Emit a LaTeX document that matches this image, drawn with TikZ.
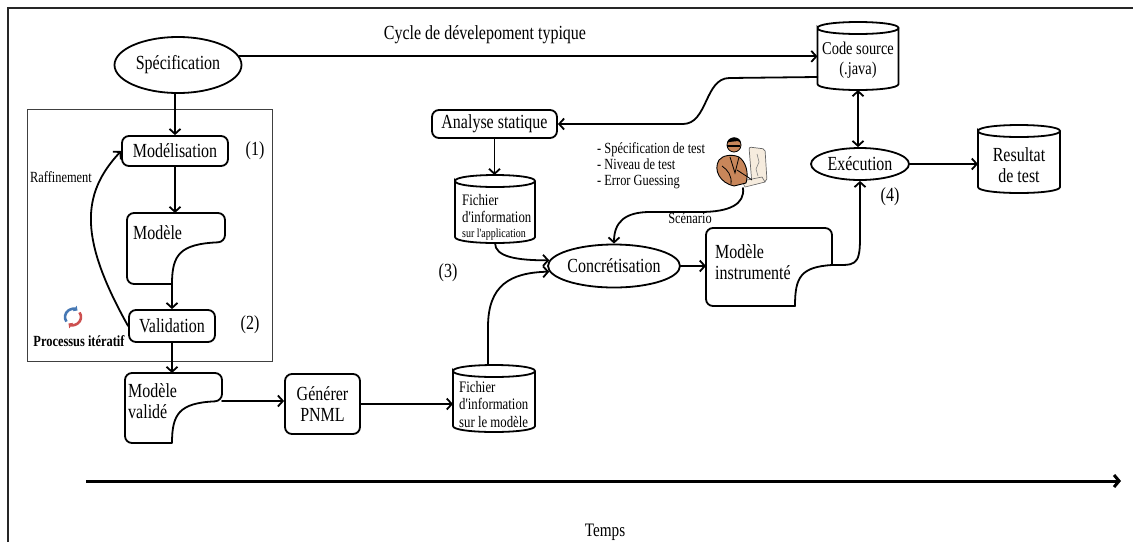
\documentclass[tikz,border=0pt]{standalone}
\usepackage{fontspec}
\setmainfont[FakeStretch=0.8, Ligatures=TeXOff]{Liberation Serif}
\usetikzlibrary{arrows.meta,calc,shapes.geometric}

\definecolor{skin}{RGB}{200,134,90}
\definecolor{screen}{RGB}{246,236,222}
\definecolor{loopblue}{RGB}{70,120,180}
\definecolor{loopred}{RGB}{205,80,80}

\tikzset{
  ln/.style={line width=1.8pt, line cap=round},
  arr/.style={ln, -{Straight Barb[length=5pt,width=11pt]}},
  biarr/.style={ln, {Straight Barb[length=5pt,width=11pt]}-{Straight Barb[length=5pt,width=11pt]}},
  big/.style={font=\fontsize{20}{21}\selectfont},
  mid/.style={font=\fontsize{16}{17.5}\selectfont},
  note/.style={font=\fontsize{15.5}{16}\selectfont},
  oval/.style={ellipse, draw, ln, inner sep=0pt, big},
  rbox/.style={draw, ln, rounded corners=7pt, inner sep=0pt, big, align=center},
  holder/.style={inner sep=0pt, outer sep=0pt},
  word/.style={inner sep=0pt, align=left},
}

% cylinder outline around a holder node; #2 = half height of the lid
\newcommand\cylinderat[2]{%
  \draw[ln] ($(#1.north west)+(0,#2)$)
      .. controls +(0,-1.333*#2) and +(0,-1.333*#2) .. ($(#1.north east)+(0,#2)$)
      .. controls +(0,1.333*#2) and +(0,1.333*#2) .. ($(#1.north west)+(0,#2)$)
      -- ($(#1.south west)+(0,-#2)$)
      .. controls +(0,1.333*#2) and +(0,1.333*#2) .. ($(#1.south east)+(0,-#2)$)
      -- ($(#1.north east)+(0,#2)$);}

% document outline with a curved notch at the lower right
% #2 = depth of the notch below the top, #3 = inset of the notch at the bottom
\newcommand\docround[3]{%
  \coordinate (#1-r) at ($(#1.north east)+(0,#2)$);
  \coordinate (#1-b) at ($(#1.south east)+(-#3,0)$);
  \coordinate (#1-k) at (#1-b |- #1-r);
  \draw[ln, rounded corners=7pt] (#1-b) -- (#1.south west) -- (#1.north west)
      -- (#1.north east) -- (#1-r)
      .. controls +(-0.85*#3,2) and ($(#1-b)!0.7!(#1-k)$) .. (#1-b);}
\newcommand\docsquare[3]{%
  \coordinate (#1-r) at ($(#1.north east)+(0,#2)$);
  \coordinate (#1-b) at ($(#1.south east)+(-#3,0)$);
  \coordinate (#1-k) at (#1-b |- #1-r);
  \draw[ln, rounded corners=7pt] (#1-r) -- (#1.north east) -- (#1.north west)
      -- (#1.south west) -- (#1-b);
  \draw[ln] (#1-r) .. controls +(-0.85*#3,2) and ($(#1-b)!0.7!(#1-k)$) .. (#1-b);}

\begin{document}
\begin{tikzpicture}[x=1pt,y=-1pt]
\useasboundingbox (0,0) rectangle (1133,542);

% page frame (left and top edges)
\draw[line width=1.6pt, black!85] (8,542) -- (8,8) -- (1133,8);

% iterative part
\draw[line width=1pt, black!75] (27,109) rectangle (272,361);

\node[big] (title) at (485,35) {Cycle de dévelepoment typique};

% ---- nodes
\node[oval, minimum width=127, minimum height=56] (spec) at (178,65) {Spécification};
\node[rbox, minimum width=106, minimum height=30] (modelisation) at (175,151) {Modélisation};
\node[holder, minimum width=98, minimum height=71] (modele) at (176,248.5) {};
\node[rbox, minimum width=86, minimum height=32] (validation) at (172,326) {Validation};
\node[holder, minimum width=97, minimum height=70] (modeleval) at (173.5,408) {};
\node[rbox, minimum width=75, minimum height=60] (pnml) at (322.5,404) {Générer\\PNML};
\node[holder, minimum width=82, minimum height=67] (fichmod) at (494,398.5) {};
\node[rbox, minimum width=125, minimum height=28] (analyse) at (494.5,124) {Analyse statique};
\node[holder, minimum width=80, minimum height=68] (fichapp) at (495,209) {};
\node[oval, minimum width=122, minimum height=43] (concr) at (614,266) {Concrétisation};
\node[holder, minimum width=126, minimum height=78] (modinst) at (769,267) {};
\node[holder, minimum width=81, minimum height=68] (code) at (858,56) {};
\node[oval, minimum width=98, minimum height=32] (exec) at (860,164) {Exécution};
\node[holder, minimum width=82, minimum height=68] (result) at (1019,159) {};
\node[holder, minimum width=56, minimum height=56] (person) at (740,160) {};
\node[holder, minimum width=20, minimum height=20] (loop) at (73,317) {};

% ---- outlines of documents and stores
\docround{modele}{29}{53}
\docround{modeleval}{28}{50}
\docsquare{modinst}{37}{37}
\cylinderat{code}{6}
\cylinderat{result}{6}
\cylinderat{fichapp}{6}
\cylinderat{fichmod}{6}

% ---- texts inside documents and stores
\node[word, big, anchor=west] (modeleT) at ($(modele.north west)+(6,20)$) {Modèle};
\node[word, big, anchor=west] (modelevalT) at ($(modeleval.north west)+(3,28)$) {Modèle\\validé};
\node[word, big, anchor=west] (modinstT) at ($(modinst.north west)+(9,34)$) {Modèle\\instrumenté};
\node[word, font=\fontsize{18}{20}\selectfont, align=center] (codeT) at ($(code.center)+(0,4)$) {Code source\\(.java)};
\node[word, big, align=center] (resultT) at ($(result.center)+(0,6)$) {Resultat\\de test};
\node[word, mid, anchor=west] (fichappT) at ($(fichapp.west)+(7,8)$)
  {Fichier\\d'information\\[-3pt]{\fontsize{12.5}{14}\selectfont sur l'application}};
\node[word, mid, anchor=west] (fichmodT) at ($(fichmod.west)+(6,6)$)
  {Fichier\\d'information\\sur le modèle};

% ---- labels
\node[big] (n1) at (255,151) {(1)};
\node[big] (n2) at (250,325) {(2)};
\node[big] (n3) at (448,273) {(3)};
\node[big] (n4) at (890,197) {(4)};
\node[note] (raff) at (61,177) {Raffinement};
\node[note, font=\fontsize{15.5}{16}\selectfont\bfseries] (iterT) at (79,341) {Processus itératif};
\node[note] (scen) at (690,218) {Scénario};
\node[word, note, anchor=west] (tests) at (597,166)
  {- Spécification de test\\- Niveau de test\\- Error Guessing};
\node[font=\fontsize{19}{20}\selectfont] (temps) at (605,532) {Temps};

% ---- connectors
\draw[arr] (spec.8) -- (spec.8 -| code.west);
\draw[arr] (modelisation.north |- spec.south) -- (modelisation.north);
\draw[arr] (modelisation.south) -- (modelisation.south |- modele.north);
\draw[arr] (validation.north |- modele-b) -- (validation.north);
\draw[arr] (validation.west) .. controls (80,240) and (80,195) .. (modelisation.west);
\draw[arr] (validation.south) -- (validation.south |- modeleval.north);
\draw[arr] (modeleval-r) -- (modeleval-r -| pnml.west);
\draw[arr] (pnml.east) -- (pnml.east -| fichmod.west);
\draw[arr] ($(fichmod.north)+(-6,0)$) -- ($(fichmod.north)+(-6,-38)$)
   .. controls +(0,-42) and +(-39,1) .. (concr.185);
\draw[arr] (fichapp.south) .. controls +(0,14) and +(-32,0) .. (concr.175);
\draw[arr] (analyse.south) -- (analyse.south |- fichapp.north);
\draw[arr] ($(code.south west)+(0,-13)$) -- ++(-88,1)
   .. controls +(-25,0) and +(25,0) .. ($(analyse.east)+(125,0)$) -- (analyse.east);
\draw[arr] ($(person.south)+(3,0)$) .. controls +(2,16) and +(30,0) .. (700,212)
   -- (650,212) .. controls (625,212) and (614,222) .. (concr.north);
\draw[arr] (concr.east) -- (concr.east -| modinst.west);
\draw[arr] (modinst-r) .. controls +(22,0) and +(0,28) .. ($(exec.south)+(0,58)$) -- (exec.south);
\draw[biarr] (code.south) -- (code.south |- exec.north);
\draw[arr] (exec.east) -- (exec.east -| result.west);

% time axis
\coordinate (t0) at (86,481);
\coordinate (t1) at (1121,481);
\draw[line width=3pt, -{Straight Barb[length=5pt,width=12pt]}] (t0) -- (t1);

% ---- iteration icon: two chasing arrows
\draw[loopblue, line width=2.6pt, -{Triangle[length=3.5pt,width=6.5pt]}]
  (loop.center) ++(145:8) arc[start angle=145, end angle=305, radius=8];
\draw[loopred, line width=2.6pt, -{Triangle[length=3.5pt,width=6.5pt]}]
  (loop.center) ++(-35:8) arc[start angle=-35, end angle=125, radius=8];

% ---- tester at his computer
\begin{scope}[shift={(person.center)}]
  \draw[black!60, fill=screen, line width=0.7pt, rounded corners=2pt]
     (9,-13) -- (25,-11) -- (27,21) -- (12,25) -- cycle;
  \draw[black!50, line width=0.6pt] (17,-6) -- (19,2) -- (16,9) -- (18,16);
  \draw[black!60, fill=screen, line width=0.6pt] (2,21) -- (22,17) -- (25,22) -- (5,27) -- cycle;
  \draw[black, fill=skin, line width=0.9pt]
     (-21,0) .. controls (-27,10) and (-20,23) .. (-6,26) -- (6,23)
     .. controls (9,13) and (6,2) .. (-1,-3) .. controls (-8,-6) and (-17,-5) .. (-21,0) -- cycle;
  \draw[black, line width=0.8pt] (-10,-3) -- (-5,13) -- (-1,-3);
  \draw[black, line width=0.8pt] (-18,6) .. controls (-12,10) and (-8,16) .. (-9,24);
  \draw[black, line width=0.8pt] (-3,10) .. controls (3,14) and (8,17) .. (12,20);
  \draw[black, fill=skin, line width=0.8pt] (-6,-15) circle[radius=7];
  \fill[black] (-13,-17) .. controls (-12,-24) and (0,-25) .. (1,-17) -- (-2,-19) -- (-11,-18) -- cycle;
  \draw[black, line width=2.2pt] (-13,-14) -- (0,-14);
\end{scope}

\end{tikzpicture}
\end{document}
